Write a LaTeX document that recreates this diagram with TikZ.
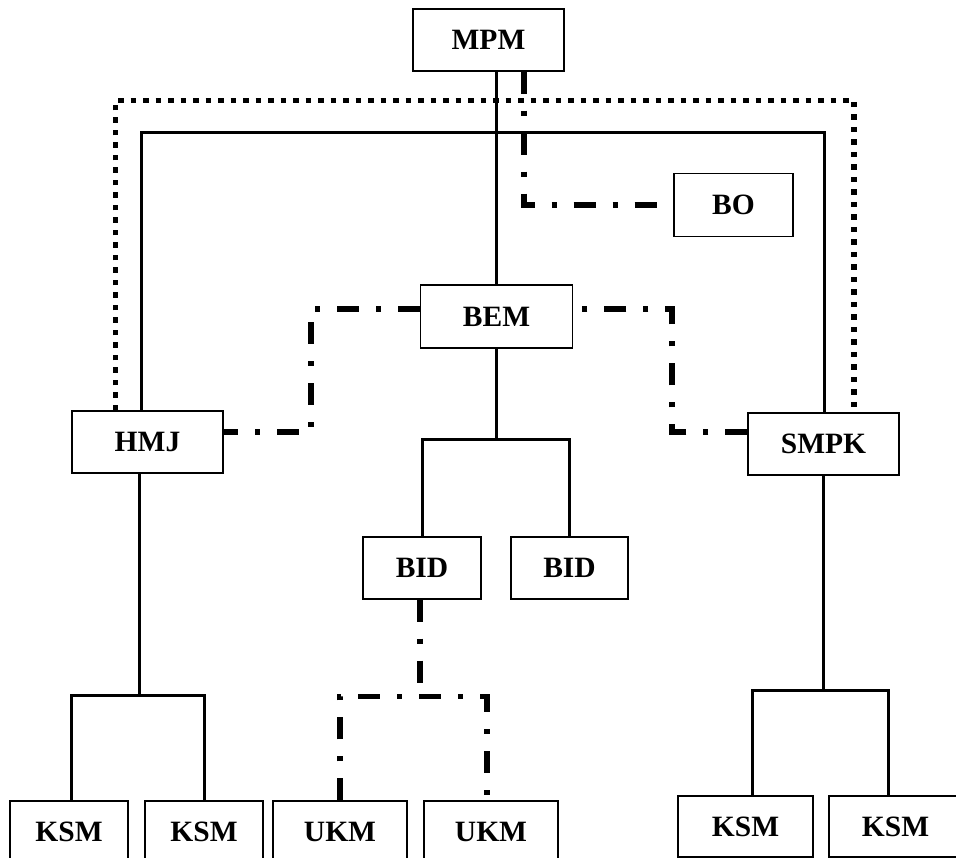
\documentclass[tikz,border=0pt]{standalone}
\usepackage{fontspec}
\setmainfont{Liberation Serif}
\tikzset{
  unit/.style={draw, line width=1.4pt, minimum height=62pt, inner sep=2pt,
    font=\fontsize{29.5}{32}\selectfont\bfseries},
  tree/.style={line width=3pt},
  dotline/.style={line width=5.5pt, dash pattern=on 5.5pt off 7pt},
  dashdot/.style={line width=5.5pt, dash pattern=on 22pt off 17pt on 5pt off 17pt}
}
\begin{document}
\begin{tikzpicture}[x=1pt, y=-1pt]
  \useasboundingbox (0,0) rectangle (956,858);

  % Units
  \node[unit, minimum width=151pt] (mpm) at (488.5,40) {MPM};
  \node[unit, minimum width=119pt, minimum height=63pt] (bo) at (733.5,205) {BO};
  \node[unit, minimum width=152pt, minimum height=63pt] (bem) at (496.5,316.5) {BEM};
  \node[unit, minimum width=151pt] (hmj) at (147.5,442) {HMJ};
  \node[unit, minimum width=151pt] (smpk) at (823.5,444) {SMPK};
  \node[unit, minimum width=118pt] (bidA) at (422,568) {BID};
  \node[unit, minimum width=117pt] (bidB) at (569.5,568) {BID};

  % Bottom row
  \node[unit, minimum width=118pt] (ksmA) at (69,832) {KSM};
  \node[unit, minimum width=118pt] (ksmB) at (204,832) {KSM};
  \node[unit, minimum width=134pt] (ukmA) at (340,832) {UKM};
  \node[unit, minimum width=134pt] (ukmB) at (491,832) {UKM};
  \node[unit, minimum width=135pt, minimum height=61pt] (ksmC) at (745.5,826.5) {KSM};
  \node[unit, minimum width=133pt, minimum height=61pt] (ksmD) at (895.5,826.5) {KSM};

  % Lines from MPM
  \draw[tree] (mpm.south -| bem.north) -- (bem.north);
  \draw[tree] ([xshift=-6.5pt]hmj.north) -- ++(0,-278) -| ([xshift=0.5pt]smpk.north);
  \draw[dotline] ([xshift=-32pt]hmj.north) -- ++(0,-310) -| ([xshift=30.5pt]smpk.north);
  \draw[dashdot] ([xshift=35.5pt]mpm.south) |- (bo.west);

  % BEM coordination
  \coordinate (hmjbend) at (311,432);
  \coordinate (smpkbend) at (672,432);
  \draw[dashdot] ([yshift=7.5pt]bem.west) -| (hmjbend) -- (hmjbend -| hmj.east);
  \draw[dashdot] (smpkbend -| smpk.west) -- (smpkbend) |- ([yshift=7.5pt]bem.east);

  % BEM to BID
  \draw[tree] (bem.south) -- ++(0,91) coordinate (bemfork);
  \draw[tree] (bidA.north) |- (bemfork) -| (bidB.north);
  \draw[dashdot] ([xshift=-2pt]bidA.south) -- ++(0,97) coordinate (bidfork);
  \draw[dashdot] (ukmA.north) |- (bidfork) -| ([xshift=-4pt]ukmB.north);

  % HMJ and SMPK to KSM
  \draw[tree] ([xshift=-8.5pt]hmj.south) -- ++(0,222) coordinate (hmjfork);
  \draw[tree] ([xshift=2pt]ksmA.north) |- (hmjfork) -| (ksmB.north);
  \draw[tree] (smpk.south) -- ++(0,215) coordinate (smpkfork);
  \draw[tree] ([xshift=6.5pt]ksmC.north) |- (smpkfork) -| ([xshift=-7.5pt]ksmD.north);
\end{tikzpicture}
\end{document}
